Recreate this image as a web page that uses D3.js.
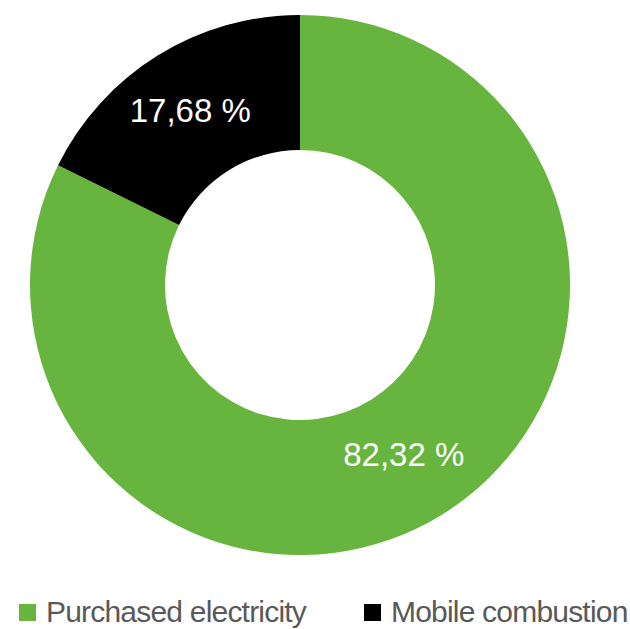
<!DOCTYPE html>
<html>
<head>
<meta charset="utf-8">
<script src="https://cdn.jsdelivr.net/npm/d3@7"></script>
<style>
  body { margin: 0; background: #fff; }
  svg { display: block; }
</style>
</head>
<body>
<div id="chart"></div>
<script>
const categories = ["Purchased electricity", "Mobile combustion"];
const values = [82.32, 17.68];
const labels = ["82,32 %", "17,68 %"];
const colors = ["#67b43e", "#000000"];

const width = 630, height = 629;
const cx = 300, cy = 285, outerR = 270, innerR = 135;

const svg = d3.select("#chart").append("svg")
    .attr("width", width)
    .attr("height", height);

const pie = d3.pie().sort(null).value(d => d.value);
const arc = d3.arc().innerRadius(innerR).outerRadius(outerR);

const data = categories.map((c, i) => ({ name: c, value: values[i], label: labels[i], color: colors[i] }));

const g = svg.append("g").attr("transform", `translate(${cx},${cy})`);

const slices = g.selectAll("g.slice")
    .data(pie(data))
    .join("g")
    .attr("class", "slice");

slices.append("path")
    .attr("d", arc)
    .attr("fill", d => d.data.color);

slices.append("text")
    .attr("transform", d => {
        const [x, y] = arc.centroid(d);
        return `translate(${x - 3},${y - 3})`;
    })
    .attr("text-anchor", "middle")
    .attr("dy", "0.35em")
    .attr("fill", "#fff")
    .style("font-family", "Liberation Sans, Arial, sans-serif")
    .style("font-size", "33px")
    .text(d => d.data.label);

// legend
const legendX = [19, 364];
const legend = svg.append("g").attr("transform", "translate(0,604)");
const items = legend.selectAll("g")
    .data(data)
    .join("g")
    .attr("transform", (d, i) => `translate(${legendX[i]},0)`);

items.append("rect")
    .attr("width", 17)
    .attr("height", 17)
    .attr("fill", d => d.color);

items.append("text")
    .attr("x", 27)
    .attr("y", 18)
    .attr("fill", "#595959")
    .style("font-family", "Liberation Sans, Arial, sans-serif")
    .style("font-size", "30px")
    .style("letter-spacing", "-0.8px")
    .text(d => d.name);
</script>
</body>
</html>
